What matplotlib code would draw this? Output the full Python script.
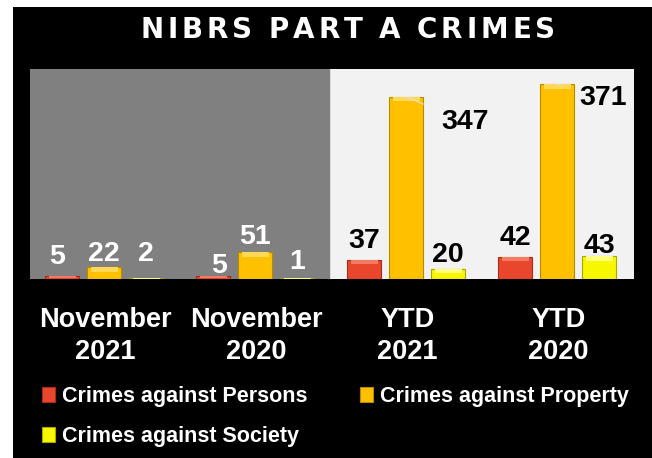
import numpy as np
import matplotlib
matplotlib.use('Agg')
import matplotlib.pyplot as plt
from matplotlib.patches import Rectangle

# data
categories = ['November\n2021', 'November\n2020', 'YTD\n2021', 'YTD\n2020']
series_names = ['Crimes against Persons', 'Crimes against Property', 'Crimes against Society']
persons = [5, 5, 37, 42]
property_crimes = [22, 51, 347, 371]
society = [2, 1, 20, 43]

colors = ['#E9472D', '#FFC000', '#F7F700']
bevel_colors = ['#F47A62', '#FFD955', '#FFFF80']
edge_colors = ['#A82A18', '#B88A00', '#A8A800']

# label offsets in pixels (dx, dy) per series / category
label_dx = [[-5, 6, 0, 0], [0, 0, 59, 46], [0, 0, 0, 0]]
label_dy = [[19, 10, 19, 19], [13, 15, -25, -14], [24, 16, 14, 10]]

W, H = 652, 458
fig = plt.figure(figsize=(W / 100, H / 100), dpi=100, facecolor='white')
fig.patches.append(Rectangle((13 / W, 0), 1, 1 - 7 / H, transform=fig.transFigure,
                             facecolor='black', edgecolor='none', zorder=-5))

ax = fig.add_axes([30 / W, 1 - 279 / H, 604 / W, 210 / H])
ax.set_facecolor('#F2F2F2')
ax.axvspan(-0.5, 1.48, color='#808080', zorder=0)

x = np.arange(len(categories))
width = 0.225
step = 0.278
all_series = [persons, property_crimes, society]
bevel = 14

for i, vals in enumerate(all_series):
    xs = x - 0.008 + (i - 1) * step
    vals = np.array(vals)
    ax.bar(xs, vals, width, color=colors[i], edgecolor=edge_colors[i], linewidth=0.8,
           zorder=2, label=series_names[i])
    bh = np.minimum(vals, bevel) * 0.6
    ax.bar(xs, bh, width * 0.8, bottom=vals - bh, color=bevel_colors[i], linewidth=0, zorder=3)
    for j, v in enumerate(vals):
        txtcol = 'white' if x[j] < 1.5 else 'black'
        dx, dy = label_dx[i][j], label_dy[i][j]
        kw = dict(xytext=(dx, dy), textcoords='offset pixels', ha='center', va='center',
                  fontsize=20.5, fontweight='bold', family='Liberation Sans',
                  color=txtcol, zorder=5)
        if dx > 20:
            kw['arrowprops'] = dict(arrowstyle='-', color='#E0E0E0', lw=0.8,
                                    shrinkA=12, shrinkB=0)
        ax.annotate(str(v), (xs[j], v), **kw)

ax.set_xlim(-0.5, 3.5)
ax.set_ylim(0, 400)
ax.set_yticks([])
ax.set_xticks(x)
ax.set_xticklabels(categories, fontsize=19.5, fontweight='bold', family='Liberation Sans',
                   color='white', linespacing=1.3)
ax.tick_params(axis='x', length=0, pad=20)
for s in ax.spines.values():
    s.set_visible(False)

# title with letter spacing
title = 'NIBRS PART A CRIMES'
renderer = fig.canvas.get_renderer()
tfont = dict(fontsize=20, fontweight='bold', family='DejaVu Sans', color='white')
gap = 4
widths = []
for ch in title:
    if ch == ' ':
        widths.append(20 * 1.389 * 0.3)
    else:
        t = fig.text(0, 0, ch, **tfont)
        widths.append(t.get_window_extent(renderer).width)
        t.remove()
total = sum(widths) + gap * (len(title) - 1)
cx = 347.5 - total / 2
for ch, w in zip(title, widths):
    if ch != ' ':
        fig.text(cx / W, 1 - 38 / H, ch, ha='left', va='baseline', **tfont)
    cx += w + gap

# legend
h, l = ax.get_legend_handles_labels()
h = h[:3]
order = [0, 2, 1]
leg = fig.legend([h[k] for k in order], [series_names[k] for k in order], ncol=2,
                 loc='upper left', bbox_to_anchor=(42 / W, 1 - 386 / H),
                 frameon=False, borderpad=0, borderaxespad=0,
                 handlelength=0.6, handleheight=0.65, handletextpad=0.35,
                 columnspacing=2.4, labelspacing=0.88,
                 prop=dict(family='Liberation Sans', weight='bold', size=15.5))
for t in leg.get_texts():
    t.set_color('white')

plt.savefig('out.png', dpi=100, facecolor='white')
